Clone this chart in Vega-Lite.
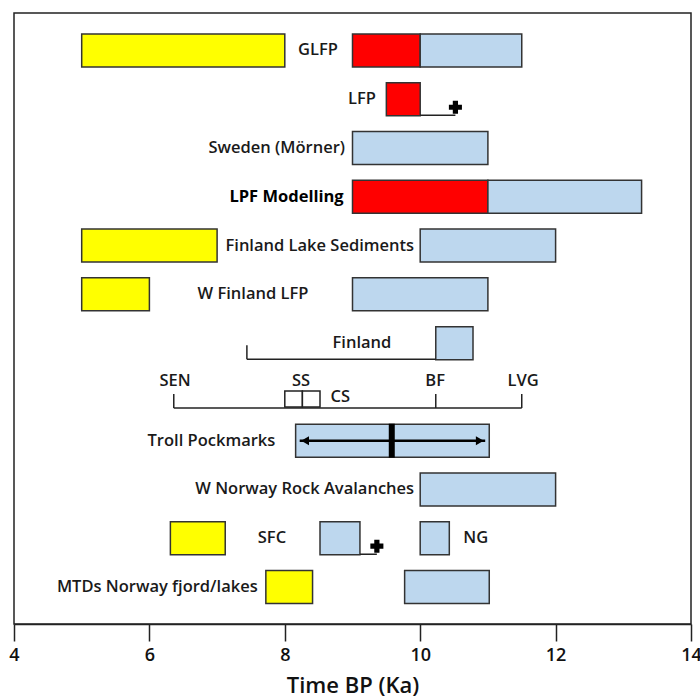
{
  "$schema": "https://vega.github.io/schema/vega-lite/v6.json",
  "width": 677,
  "height": 611,
  "autosize": {"type": "none"},
  "padding": {"left": 14, "top": 13, "right": 9, "bottom": 74},
  "background": "white",
  "config": {"view": {"stroke": "#222", "strokeWidth": 1.5}, "font": "Open Sans"},
  "datasets": {
    "bars": [
      {"row": 1, "start": 5, "end": 8, "phase": "yellow"},
      {"row": 1, "start": 9, "end": 10, "phase": "red"},
      {"row": 1, "start": 10, "end": 11.5, "phase": "blue"},
      {"row": 2, "start": 9.5, "end": 10, "phase": "red"},
      {"row": 3, "start": 9, "end": 11, "phase": "blue"},
      {"row": 4, "start": 9, "end": 11, "phase": "red"},
      {"row": 4, "start": 11, "end": 13.27, "phase": "blue"},
      {"row": 5, "start": 5, "end": 7, "phase": "yellow"},
      {"row": 5, "start": 10, "end": 12, "phase": "blue"},
      {"row": 6, "start": 5, "end": 6, "phase": "yellow"},
      {"row": 6, "start": 9, "end": 11, "phase": "blue"},
      {"row": 7, "start": 10.23, "end": 10.78, "phase": "blue"},
      {"row": 9, "start": 8.16, "end": 11.02, "phase": "blue"},
      {"row": 10, "start": 10, "end": 12, "phase": "blue"},
      {"row": 11, "start": 6.31, "end": 7.12, "phase": "yellow"},
      {"row": 11, "start": 8.52, "end": 9.11, "phase": "blue"},
      {"row": 11, "start": 10.0, "end": 10.43, "phase": "blue"},
      {"row": 12, "start": 7.72, "end": 8.41, "phase": "yellow"},
      {"row": 12, "start": 9.77, "end": 11.02, "phase": "blue"}
    ],
    "connectors": [
      {"row": 2, "start": 10, "end": 10.52},
      {"row": 7, "start": 7.44, "end": 10.23},
      {"row": 8, "start": 6.36, "end": 11.5},
      {"row": 11, "start": 9.11, "end": 9.36}
    ],
    "vticks": [
      {"row": 7, "x": 7.44},
      {"row": 8, "x": 6.36},
      {"row": 8, "x": 10.23},
      {"row": 8, "x": 11.5}
    ],
    "boxes": [
      {"row": 8, "start": 8.0, "end": 8.26},
      {"row": 8, "start": 8.26, "end": 8.52}
    ],
    "markers": [
      {"row": 2, "x": 10.52},
      {"row": 11, "x": 9.36}
    ],
    "arrow": [
      {"row": 9, "start": 8.22, "end": 10.96}
    ],
    "heads": [
      {"row": 9, "x": 8.3, "dir": "left"},
      {"row": 9, "x": 10.88, "dir": "right"}
    ],
    "mid": [
      {"row": 9, "x": 9.58}
    ],
    "labels": [
      {"row": 1, "x": 8.49, "text": "GLFP", "group": "c"},
      {"row": 2, "x": 9.14, "text": "LFP", "group": "c"},
      {"row": 3, "x": 8.89, "text": "Sweden (Mörner)", "group": "r"},
      {"row": 4, "x": 8.87, "text": "LPF Modelling", "group": "rb"},
      {"row": 5, "x": 9.91, "text": "Finland Lake Sediments", "group": "r"},
      {"row": 6, "x": 7.53, "text": "W Finland LFP", "group": "c"},
      {"row": 7, "x": 9.14, "text": "Finland", "group": "c"},
      {"row": 8, "x": 6.38, "text": "SEN", "group": "t"},
      {"row": 8, "x": 8.24, "text": "SS", "group": "t"},
      {"row": 8, "x": 10.22, "text": "BF", "group": "t"},
      {"row": 8, "x": 11.52, "text": "LVG", "group": "t"},
      {"row": 8, "x": 8.82, "text": "CS", "group": "tc"},
      {"row": 9, "x": 7.86, "text": "Troll Pockmarks", "group": "r"},
      {"row": 10, "x": 9.91, "text": "W Norway Rock Avalanches", "group": "r"},
      {"row": 11, "x": 7.81, "text": "SFC", "group": "c"},
      {"row": 11, "x": 10.82, "text": "NG", "group": "c"},
      {"row": 12, "x": 7.6, "text": "MTDs Norway fjord/lakes", "group": "r"}
    ]
  },
  "encoding": {
    "y": {"field": "row", "type": "quantitative", "scale": {"domain": [0.334, 12.656], "reverse": true, "nice": false, "zero": false}, "axis": null}
  },
  "layer": [
    {
      "data": {"name": "bars"},
      "mark": {"type": "bar", "orient": "horizontal", "height": 33, "stroke": "#333", "strokeWidth": 1.5},
      "encoding": {
        "x": {
          "field": "start", "type": "quantitative",
          "scale": {"domain": [4, 14], "nice": false, "zero": false},
          "title": "Time BP (Ka)",
          "axis": {
            "values": [4, 6, 8, 10, 12, 14], "format": "d", "grid": false, "tickSize": 17, "tickWidth": 1.5, "tickColor": "#222",
            "domainColor": "#222", "domainWidth": 1.5, "labelFont": "Open Sans", "labelFontSize": 18,
            "labelFontWeight": 600, "labelColor": "#111", "labelPadding": 5, "labelFlush": false,
            "titleFont": "Open Sans", "titleFontSize": 22, "titleFontWeight": 600, "titleColor": "#111", "titlePadding": 11
          }
        },
        "x2": {"field": "end"},
        "color": {"field": "phase", "type": "nominal", "scale": {"domain": ["yellow", "red", "blue"], "range": ["#FFFF00", "#FF0000", "#BDD7EE"]}, "legend": null}
      }
    },
    {
      "data": {"name": "connectors"},
      "mark": {"type": "rule", "color": "#222", "strokeWidth": 1.5, "yOffset": 16},
      "encoding": {"x": {"field": "start", "type": "quantitative"}, "x2": {"field": "end"}}
    },
    {
      "data": {"name": "vticks"},
      "mark": {"type": "tick", "orient": "vertical", "color": "#222", "opacity": 1, "thickness": 1.5, "size": 14, "yOffset": 9},
      "encoding": {"x": {"field": "x", "type": "quantitative"}}
    },
    {
      "data": {"name": "boxes"},
      "mark": {"type": "bar", "orient": "horizontal", "height": 16, "yOffset": 7, "fill": "white", "stroke": "#222", "strokeWidth": 1.5},
      "encoding": {"x": {"field": "start", "type": "quantitative"}, "x2": {"field": "end"}}
    },
    {
      "data": {"name": "arrow"},
      "mark": {"type": "rule", "color": "black", "strokeWidth": 2.5},
      "encoding": {"x": {"field": "start", "type": "quantitative"}, "x2": {"field": "end"}}
    },
    {
      "data": {"name": "heads"},
      "mark": {"type": "point", "filled": true, "color": "black", "size": 80, "opacity": 1},
      "encoding": {
        "x": {"field": "x", "type": "quantitative"},
        "shape": {"field": "dir", "type": "nominal", "scale": {"domain": ["left", "right"], "range": ["triangle-left", "triangle-right"]}, "legend": null}
      }
    },
    {
      "data": {"name": "mid"},
      "mark": {"type": "tick", "orient": "vertical", "color": "black", "opacity": 1, "thickness": 6, "size": 34},
      "encoding": {"x": {"field": "x", "type": "quantitative"}}
    },
    {
      "data": {"name": "markers"},
      "mark": {"type": "point", "shape": "cross", "filled": true, "color": "black", "size": 170, "opacity": 1, "yOffset": 8},
      "encoding": {"x": {"field": "x", "type": "quantitative"}}
    },
    {
      "data": {"name": "labels"},
      "transform": [{"filter": "datum.group === 'c'"}],
      "mark": {"type": "text", "align": "center", "baseline": "middle", "font": "Open Sans", "fontSize": 16.5, "fontWeight": 600, "color": "#1a1a1a"},
      "encoding": {"x": {"field": "x", "type": "quantitative"}, "text": {"field": "text"}}
    },
    {
      "data": {"name": "labels"},
      "transform": [{"filter": "datum.group === 'r'"}],
      "mark": {"type": "text", "align": "right", "baseline": "middle", "font": "Open Sans", "fontSize": 16.5, "fontWeight": 600, "color": "#1a1a1a"},
      "encoding": {"x": {"field": "x", "type": "quantitative"}, "text": {"field": "text"}}
    },
    {
      "data": {"name": "labels"},
      "transform": [{"filter": "datum.group === 'rb'"}],
      "mark": {"type": "text", "align": "right", "baseline": "middle", "font": "Open Sans", "fontSize": 16.5, "fontWeight": "bold", "color": "#000"},
      "encoding": {"x": {"field": "x", "type": "quantitative"}, "text": {"field": "text"}}
    },
    {
      "data": {"name": "labels"},
      "transform": [{"filter": "datum.group === 't'"}],
      "mark": {"type": "text", "align": "center", "baseline": "middle", "font": "Open Sans", "fontSize": 16.5, "fontWeight": 600, "color": "#1a1a1a", "yOffset": -11},
      "encoding": {"x": {"field": "x", "type": "quantitative"}, "text": {"field": "text"}}
    },
    {
      "data": {"name": "labels"},
      "transform": [{"filter": "datum.group === 'tc'"}],
      "mark": {"type": "text", "align": "center", "baseline": "middle", "font": "Open Sans", "fontSize": 16.5, "fontWeight": 600, "color": "#1a1a1a", "yOffset": 5},
      "encoding": {"x": {"field": "x", "type": "quantitative"}, "text": {"field": "text"}}
    }
  ]
}
